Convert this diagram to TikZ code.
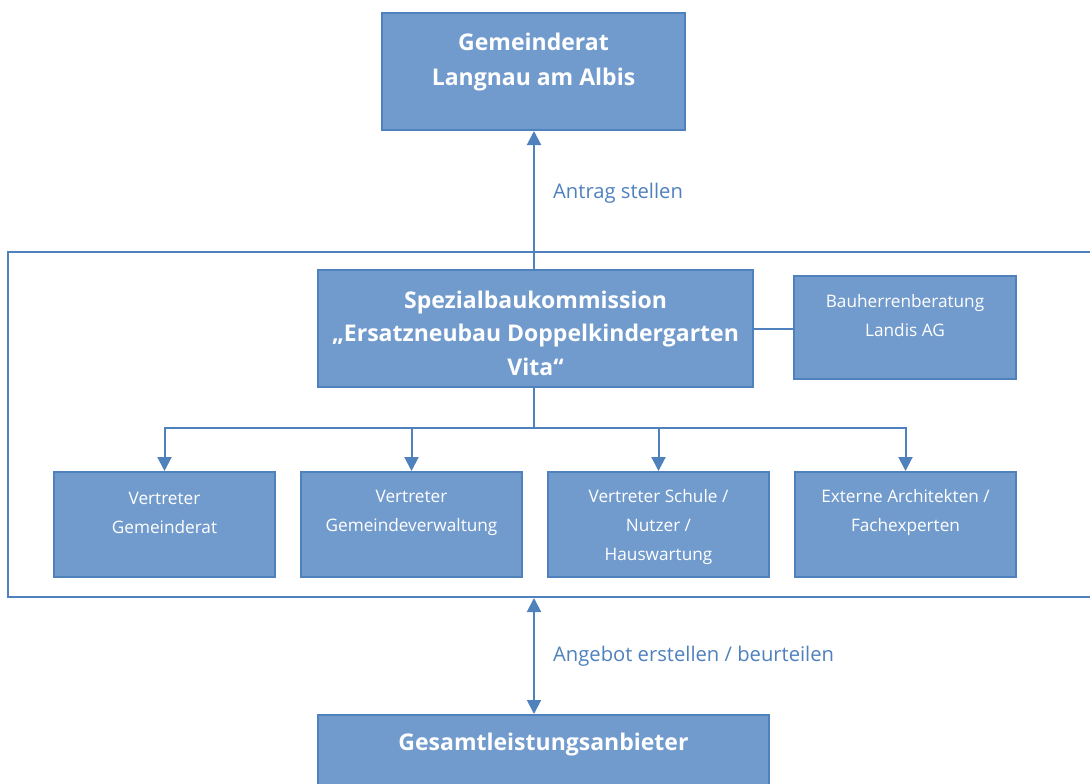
\documentclass[tikz,border=0pt]{standalone}
\usepackage{fontspec}
\setmainfont{Open Sans}
\usetikzlibrary{arrows.meta}
\definecolor{boxfill}{HTML}{729BCD}
\definecolor{boxline}{HTML}{4F81BD}
\definecolor{labelblue}{HTML}{4F81BD}
\begin{document}
\begin{tikzpicture}[x=1pt,y=-1pt,
  box/.style={draw=boxline, line width=2pt, fill=boxfill, inner sep=0pt, rectangle},
  boldtext/.style={text=white, align=center, font=\fontsize{23}{35}\selectfont\bfseries, inner sep=0pt},
  plaintext/.style={text=white, align=center, font=\fontsize{17.2}{29}\selectfont, inner sep=0pt},
  edgelabel/.style={text=labelblue, anchor=west, font=\fontsize{20.2}{24}\selectfont, inner sep=0pt},
  conn/.style={draw=boxline, line width=2pt},
  arr/.style={conn, -{Triangle[width=14pt,length=14pt]}},
  darr/.style={conn, {Triangle[width=14pt,length=14pt]}-{Triangle[width=14pt,length=14pt]}},
  frameline/.style={draw=boxline, line width=2pt}]
\useasboundingbox (0,0) rectangle (1090,784);
\fill[white] (0,0) rectangle (1090,784);

% outer frame (right side out of picture)
\draw[frameline] (1100,252) -- (8,252) -- (8,597) -- (1100,597);

% boxes
\node[box, minimum width=303pt, minimum height=117pt] (gr) at (533.5,71.5) {};
\node[box, minimum width=435pt, minimum height=117pt] (sbk) at (535.5,328.5) {};
\node[box, minimum width=222pt, minimum height=103pt] (bhb) at (905,327.5) {};
\node[box, minimum width=221pt, minimum height=105pt] (v1) at (164.5,524.5) {};
\node[box, minimum width=221pt, minimum height=105pt] (v2) at (411.5,524.5) {};
\node[box, minimum width=221pt, minimum height=105pt] (v3) at (658.5,524.5) {};
\node[box, minimum width=221pt, minimum height=105pt] (v4) at (905.5,524.5) {};
\node[box, minimum width=451pt, minimum height=100pt] (ges) at (543.5,765) {};

% texts
\node[boldtext] (grt) at (533.5,62.5) {Gemeinderat\\Langnau am Albis};
\node[boldtext, font=\fontsize{23}{33.5}\selectfont\bfseries] (sbkt) at (535.5,333) {Spezialbaukommission\\„Ersatzneubau Doppelkindergarten\\Vita“};
\node[plaintext] (bhbt) at (905,316) {Bauherrenberatung\\Landis AG};
\node[plaintext] (v1t) at (164.5,512.5) {Vertreter\\Gemeinderat};
\node[plaintext] (v2t) at (411.5,512.5) {Vertreter\\Gemeindeverwaltung};
\node[plaintext] (v3t) at (658.5,527) {Vertreter Schule /\\Nutzer /\\Hauswartung};
\node[plaintext] (v4t) at (905.5,512.5) {Externe Architekten /\\Fachexperten};
\node[boldtext] (gest) at (543.5,745) {Gesamtleistungsanbieter};

% connectors
\draw[arr] (sbk.north -| 534,0) -- (534,0 |- gr.south);
\node[edgelabel] (antrag) at (553,193) {Antrag stellen};

\draw[conn] (sbk.east) -- (sbk.east -| bhb.west);

\coordinate (br) at (534,428);
\draw[conn] (sbk.south -| br) -- (br);
\draw[arr] (br) -| (v1.north);
\draw[arr] (br) -| (v2.north);
\draw[arr] (br) -| (v3.north);
\draw[arr] (br) -| (v4.north);

\coordinate (fb) at (534,598);
\draw[darr] (fb) -- (fb |- ges.north);
\node[edgelabel] (angebot) at (553,656) {Angebot erstellen / beurteilen};
\end{tikzpicture}
\end{document}
